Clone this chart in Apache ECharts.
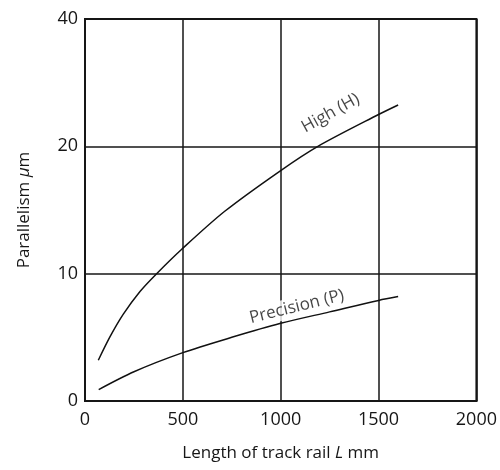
<!DOCTYPE html>
<html>
<head>
<meta charset="utf-8">
<script src="https://cdn.jsdelivr.net/npm/echarts@6/dist/echarts.min.js"></script>
<style>html,body{margin:0;padding:0;background:#fff}#c{width:500px;height:470px}</style>
</head>
<body>
<div id="c"></div>
<script>
// Data (lengths in mm, parallelism in µm)
var highL = [68, 128, 195, 281, 366, 493, 714, 1000, 1190, 1500, 1600];
var highV = [3.2, 5.05, 6.8, 8.6, 10.0, 11.9, 14.9, 18.1, 20.0, 25.0, 26.5];
var precL = [70, 250, 500, 750, 1000, 1250, 1500, 1600];
var precV = [0.9, 2.3, 3.8, 5.0, 6.1, 7.0, 7.9, 8.2];
var yTicks = [0, 10, 20, 40];
var xTicks = [0, 500, 1000, 1500, 2000];
var labelNames = ['High (H)', 'Precision (P)'];
var labelL = [1255, 1082];
var labelV = [25.2, 7.4];
var labelRot = [29, 14];

// Piecewise y scale: 0,10,20,40 equally spaced
function toIdx(v) {
  for (var i = 0; i < yTicks.length - 1; i++) {
    if (v <= yTicks[i + 1]) return i + (v - yTicks[i]) / (yTicks[i + 1] - yTicks[i]);
  }
  return yTicks.length - 1;
}
function pairs(L, V) { return L.map(function (l, i) { return [l, toIdx(V[i])]; }); }

var font = 'Open Sans';
var ink = '#161616';
var fs = 18;
var chart = echarts.init(document.getElementById('c'), null, {renderer: 'canvas'});
chart.setOption({
  animation: false,
  backgroundColor: '#fff',
  grid: {left: 85, right: 23, top: 19, bottom: 69, show: true, borderColor: ink, borderWidth: 2, backgroundColor: 'transparent'},
  xAxis: {
    type: 'value', min: xTicks[0], max: xTicks[xTicks.length - 1], interval: 500,
    axisLine: {show: true, lineStyle: {color: ink, width: 2}},
    axisTick: {show: false},
    splitLine: {show: true, lineStyle: {color: ink, width: 1.5}},
    axisLabel: {color: ink, fontFamily: font, fontSize: fs, margin: 10, formatter: function (v) { return String(v); }},
    name: '{a|Length of track rail }{i|L}{a| mm}',
    nameLocation: 'middle', nameGap: 44,
    nameTextStyle: {rich: {a: {fontFamily: font, fontSize: 17, color: ink}, i: {fontFamily: font, fontSize: 17, fontStyle: 'italic', color: ink}}}
  },
  yAxis: {
    type: 'value', min: 0, max: yTicks.length - 1, interval: 1,
    axisLine: {show: true, lineStyle: {color: ink, width: 2}},
    axisTick: {show: false},
    splitLine: {show: true, lineStyle: {color: ink, width: 1.5}},
    axisLabel: {color: ink, fontFamily: font, fontSize: fs, margin: 7, formatter: function (v) { return yTicks[Math.round(v)]; }},
    name: '{a|Parallelism }{i|μ}{a|m}',
    nameLocation: 'middle', nameGap: 52,
    nameTextStyle: {rich: {a: {fontFamily: font, fontSize: 17, color: ink}, i: {fontFamily: font, fontSize: 17, fontStyle: 'italic', color: ink}}}
  },
  series: [
    {type: 'line', data: pairs(highL, highV), smooth: 0.3, showSymbol: false, lineStyle: {color: '#111', width: 1.5}, z: 3},
    {type: 'line', data: pairs(precL, precV), smooth: 0.3, showSymbol: false, lineStyle: {color: '#111', width: 1.5}, z: 3},
    {type: 'scatter', symbolSize: 0, z: 4,
      data: labelNames.map(function (n, i) {
        return {value: [labelL[i], toIdx(labelV[i])], name: n,
          label: {show: true, position: 'inside', rotate: labelRot[i], formatter: n,
            fontFamily: font, fontSize: 17, color: ink, backgroundColor: '#fff', padding: [0, 4, 3, 4]}};
      })
    }
  ]
});
</script>
</body>
</html>
